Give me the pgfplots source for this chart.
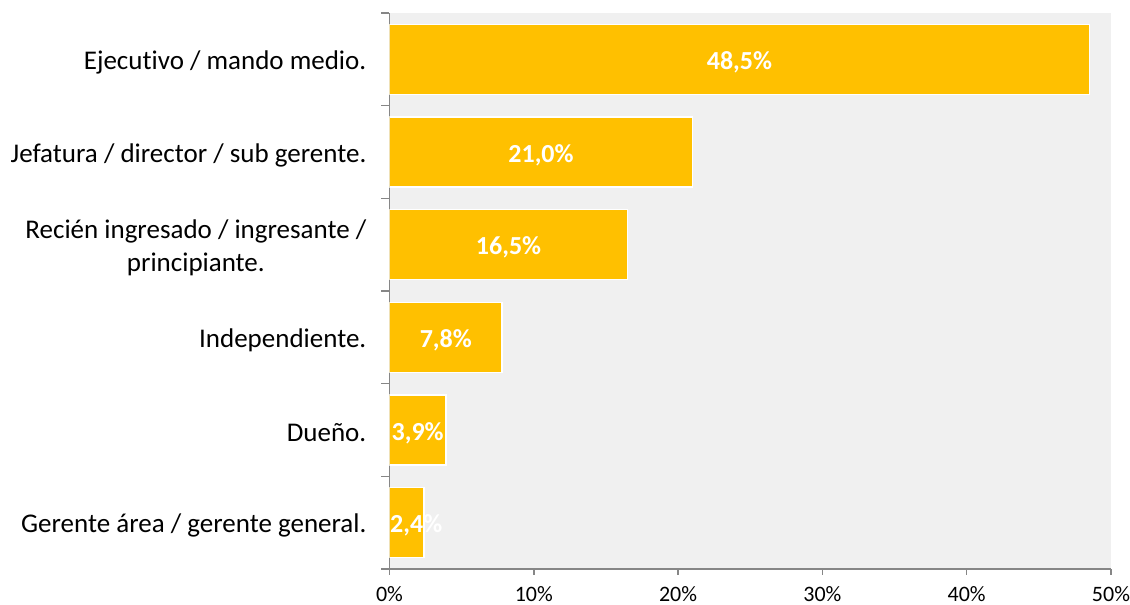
\documentclass[border=0pt]{standalone}
\usepackage{fontspec}
\setmainfont{Carlito}[Ligatures={NoCommon}]
\usepackage{pgfplots}
\pgfplotsset{compat=1.18}
\definecolor{barcol}{HTML}{FFC000}
\definecolor{bgcol}{HTML}{F0F0F0}
\definecolor{axcol}{HTML}{868686}
\begin{document}
\begin{tikzpicture}
\path[use as bounding box] (0pt,0pt) rectangle (1130pt,605pt);
\begin{axis}[
  at={(389.5pt,36pt)}, anchor=south west,
  scale only axis, width=721.5pt, height=556pt,
  xbar, bar width=70pt,
  xmin=0, xmax=50, ymin=-0.5, ymax=5.5,
  axis x line*=bottom, axis y line*=left,
  axis line style={axcol, line width=1.5pt},
  axis background/.style={fill=bgcol},
  tick align=outside,
  major tick length=6pt, minor tick length=8pt,
  tick style={axcol, line width=1.5pt},
  major y tick style={draw=none},
  xtick={0,10,20,30,40,50},
  /pgf/number format/assume math mode=true,
  xticklabel={\pgfmathprintnumber{\tick}\%},
  xticklabel style={font=\fontsize{22}{26}\selectfont, anchor=north, inner sep=0pt, yshift=-11pt},
  ytick={0,1,2,3,4,5},
  minor ytick={-0.5,0.5,1.5,2.5,3.5,4.5,5.5},
  yticklabels={Gerente área / gerente general.,Dueño.,Independiente.,{Recién ingresado / ingresante /\\principiante.},{Jefatura / director / sub gerente.},Ejecutivo / mando medio.},
  yticklabel style={font=\fontsize{27}{33}\selectfont, align=center, anchor=east, inner sep=0pt, xshift=-17pt, yshift=-3pt},
  point meta=explicit symbolic,
  visualization depends on=rawx \as \rawx,
  nodes near coords,
  every node near coord/.append style={anchor=center, text=white, font=\fontsize{26}{31}\selectfont\bfseries, yshift=-3pt, shift={(axis direction cs:{max(-\rawx/2,1.85-\rawx)},0)}},
]
\addplot[fill=barcol, draw=white, line width=1.5pt] coordinates {
  (2.4,0) [2,4\%]
  (3.9,1) [3,9\%]
  (7.8,2) [7,8\%]
  (16.5,3) [16,5\%]
  (21.0,4) [21,0\%]
  (48.5,5) [48,5\%]
};
\end{axis}
\end{tikzpicture}
\end{document}
